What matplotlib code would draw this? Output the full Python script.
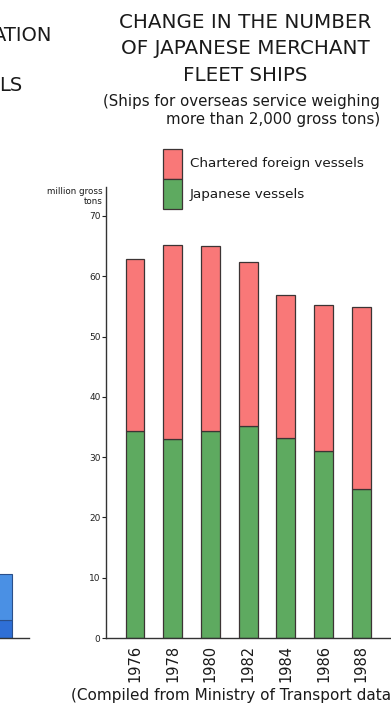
import matplotlib
matplotlib.use("Agg")
import matplotlib.pyplot as plt

# data
years = ["1976", "1978", "1980", "1982", "1984", "1986", "1988"]
japanese = [34.4, 33.0, 34.3, 35.2, 33.1, 31.0, 24.7]
total = [62.9, 65.2, 65.0, 62.4, 56.9, 55.2, 54.9]
chartered = [t - j for t, j in zip(total, japanese)]
yticks = [0, 10, 20, 30, 40, 50, 60, 70]

# neighbouring chart, cut off at the left edge of the scan
left_lower = [3.0]
left_upper = [7.6]

W, H = 391, 706
FONT = ["DejaVu Sans"]
RED = "#f97878"
GREEN = "#5eaa60"
EDGE = "#3c3434"
INK = "#1a1a1a"


def fx(x):
    return x / W


def fy(y):
    return 1 - y / H


plt.rcParams["font.family"] = FONT
fig = plt.figure(figsize=(W / 100, H / 100), dpi=100)

ax = fig.add_axes([fx(106), fy(638), fx(391 - 106), (638 - 187) / H])
x = range(len(years))
ax.bar(x, japanese, width=0.5, color=GREEN, edgecolor=EDGE, linewidth=0.9)
ax.bar(x, chartered, bottom=japanese, width=0.5, color=RED, edgecolor=EDGE, linewidth=0.9)
ax.set_xlim(-0.77, 6.79)
ax.set_ylim(0, 74.8)
ax.set_yticks(yticks)
ax.set_yticklabels([str(v) for v in yticks], fontsize=6.5)
ax.set_xticks(list(x))
ax.set_xticklabels(years, rotation=90, fontsize=10.5, color=INK)
ax.tick_params(axis="y", direction="out", length=3, width=0.8, pad=1, colors="#222222")
ax.tick_params(axis="x", length=0, pad=5)
for s in ["top", "right"]:
    ax.spines[s].set_visible(False)
for s in ["left", "bottom"]:
    ax.spines[s].set_linewidth(1.0)
    ax.spines[s].set_color("#333333")
ax.text(-0.012, 1.0, "million gross\ntons", transform=ax.transAxes, ha="right", va="top",
        fontsize=6.3, linespacing=1.1, color=INK)

# partial chart on the left
ax2 = fig.add_axes([fx(-60), fy(638), fx(89), (638 - 187) / H])
ax2.bar([0.3], left_lower, width=0.8, color="#2f6fd6", edgecolor="#2a4f8a", linewidth=0.8)
ax2.bar([0.3], left_upper, bottom=left_lower, width=0.8, color="#4a90e4", edgecolor="#2a4f8a",
        linewidth=0.8)
ax2.set_xlim(-0.6, 1.0)
ax2.set_ylim(0, 74.8)
ax2.axis("off")
ax2.axhline(0, color="#333333", linewidth=1.0, clip_on=False)

# titles
title_lines = ["CHANGE IN THE NUMBER", "OF JAPANESE MERCHANT", "FLEET SHIPS"]
for i, line in enumerate(title_lines):
    fig.text(fx(245), fy(28 + 26.5 * i), line, ha="center", va="baseline", fontsize=14.3,
             color=INK)
fig.text(fx(380), fy(106), "(Ships for overseas service weighing", ha="right", va="baseline",
         fontsize=10.8, color=INK)
fig.text(fx(380), fy(124), "more than 2,000 gross tons)", ha="right", va="baseline",
         fontsize=10.8, color=INK)

fig.text(fx(52), fy(41), "ATION", ha="right", va="baseline", fontsize=14, color=INK)
fig.text(fx(22), fy(91), "LS", ha="right", va="baseline", fontsize=14, color=INK)

# legend boxes
for label, col, top in [("Chartered foreign vessels", RED, 149), ("Japanese vessels", GREEN, 179)]:
    fig.patches.append(plt.Rectangle((fx(163), fy(top + 30)), fx(19), 30 / H,
                                     transform=fig.transFigure, facecolor=col, edgecolor=EDGE,
                                     linewidth=0.9))
    fig.text(fx(190), fy(top + 15), label, ha="left", va="center", fontsize=9.7, color=INK)

fig.text(fx(71), fy(700), "(Compiled from Ministry of Transport data)", ha="left", va="baseline",
         fontsize=11, color=INK)

fig.savefig("out.png", dpi=100)
